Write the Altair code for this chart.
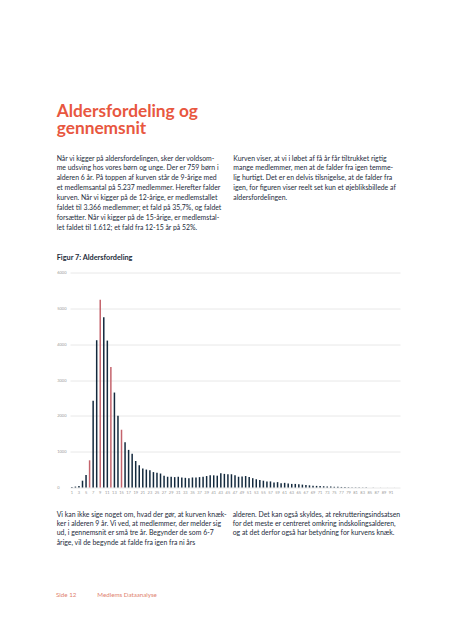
import altair as alt
import pandas as pd

ages = list(range(1, 94))
members = [
    15, 25, 40, 190, 350, 759, 2420, 4110, 5237, 4750,
    4100, 3366, 2650, 2000, 1612, 1260, 1050, 940, 740, 620,
    530, 500, 480, 430, 410, 390, 330, 300, 300, 290,
    300, 280, 270, 260, 280, 280, 290, 300, 320, 340,
    340, 330, 400, 380, 370, 370, 340, 300, 310, 320,
    290, 260, 230, 210, 190, 170, 170, 140, 150, 120,
    130, 110, 100, 100, 90, 80, 70, 60, 50, 45,
    40, 35, 30, 25, 20, 18, 15, 12, 10, 8,
    7, 6, 5, 4, 3, 3, 2, 2, 1, 1,
    1, 1, 1,
]
highlight_ages = [6, 9, 12, 15]
x_label_ages = list(range(1, 92, 2))
y_ticks = [0, 1000, 2000, 3000, 4000, 5000, 6000]

title_line1 = "Aldersfordeling og"
title_line2 = "gennemsnit"
intro_left = [
    "Når vi kigger på aldersfordelingen, sker der voldsom-",
    "me udsving hos vores børn og unge. Der er 759 børn i",
    "alderen 6 år. På toppen af kurven står de 9-årige med",
    "et medlemsantal på 5.237 medlemmer. Herefter falder",
    "kurven. Når vi kigger på de 12-årige, er medlemstallet",
    "faldet til 3.366 medlemmer; et fald på 35,7%, og faldet",
    "forsætter. Når vi kigger på de 15-årige, er medlemstal-",
    "let faldet til 1.612; et fald fra 12-15 år på 52%.",
]
intro_right = [
    "Kurven viser, at vi i løbet af få år får tiltrukket rigtig",
    "mange medlemmer, men at de falder fra igen temme-",
    "lig hurtigt. Det er en delvis tilsnigelse, at de falder fra",
    "igen, for figuren viser reelt set kun et øjebliksbillede af",
    "aldersfordelingen.",
]
figure_label = "Figur 7: Aldersfordeling"
outro_left = [
    "Vi kan ikke sige noget om, hvad der gør, at kurven knæk-",
    "ker i alderen 9 år. Vi ved, at medlemmer, der melder sig",
    "ud, i gennemsnit er små tre år. Begynder de som 6-7",
    "årige, vil de begynde at falde fra igen fra ni års",
]
outro_right = [
    "alderen. Det kan også skyldes, at rekrutteringsindsatsen",
    "for det meste er centreret omkring indskolingsalderen,",
    "og at det derfor også har betydning for kurvens knæk.",
]
footer_page = "Side 12"
footer_title = "Medlems Dataanalyse"

NAVY = "#13293d"
RED = "#c4636c"
CORAL = "#e8573f"
FONT = "Lato"

df = pd.DataFrame({"age": ages, "members": members})
df["hl"] = df["age"].isin(highlight_ages)

bars = alt.Chart(df).mark_bar(size=1.5).encode(
    x=alt.X("age:O", title=None,
            scale=alt.Scale(paddingInner=0.55, paddingOuter=0.3),
            axis=alt.Axis(values=x_label_ages, labelAngle=0, ticks=False, domain=False,
                          labelFontSize=4, labelColor="#9a9a9a", labelPadding=3,
                          grid=False, labelFont=FONT)),
    y=alt.Y("members:Q", title=None,
            scale=alt.Scale(domain=[0, 6000], nice=False),
            axis=alt.Axis(values=y_ticks, format="d", ticks=False, tickSize=0, domain=False,
                          labelAlign="left", labelPadding=13.3, labelFontSize=4,
                          labelColor="#9a9a9a", gridColor="#e2e2e2", gridWidth=0.8,
                          labelFont=FONT)),
    color=alt.condition(alt.datum.hl, alt.value(RED), alt.value(NAVY)),
)

one = alt.Data(values=[{}])


def txt(lines, x, y, size, color, weight="normal", lh=10):
    return alt.Chart(one).mark_text(
        align="left", baseline="alphabetic", fontSize=size, font=FONT,
        fontWeight=weight, color=color, lineHeight=lh, text=lines,
    ).encode(x=alt.value(x), y=alt.value(y))


layers = [
    bars,
    txt(title_line1, -13.3, -155.8, 17.3, CORAL, "bold", 17),
    txt(title_line2, -13.3, -138.8, 17.3, CORAL, "bold", 17),
    txt(intro_left, -13.3, -112, 6.9, "#1e2c3c", "normal", 9.9),
    txt(intro_right, 163.3, -112, 6.9, "#1e2c3c", "normal", 9.9),
    txt([figure_label], -13.3, -12.5, 7.3, "#1e2c3c", "bold", 10),
    txt(outro_left, -13.3, 244.5, 6.9, "#1e2c3c", "normal", 9.2),
    txt(outro_right, 162.7, 244.5, 6.9, "#1e2c3c", "normal", 9.2),
    txt([footer_page], -14, 324.5, 6.2, "#e07f6e", "normal", 10),
    txt([footer_title], 27.3, 324.5, 6.2, "#e07f6e", "normal", 10),
]

chart = alt.layer(*layers).properties(
    width=330, height=215,
    padding={"left": 62, "top": 264.5, "right": 45, "bottom": 144},
    autosize=alt.AutoSizeParams(type="none"),
).configure_view(stroke=None)

chart.save("out.html", embed_options={"renderer": "svg", "actions": False})
